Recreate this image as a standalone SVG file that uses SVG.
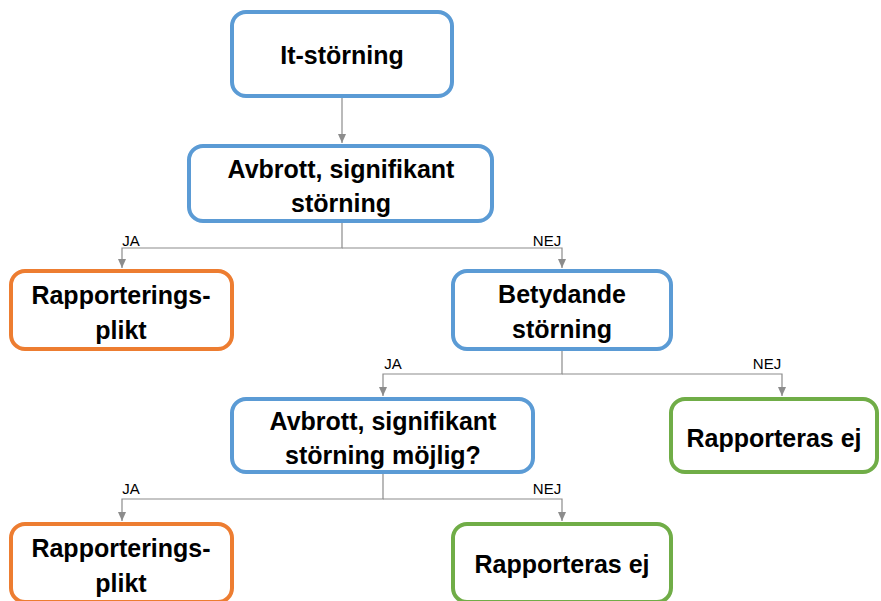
<svg xmlns="http://www.w3.org/2000/svg" width="881" height="601" viewBox="0 0 881 601">
<style>
.box{fill:#fff;stroke-width:4}
.blue{stroke:#5B9BD5}
.orange{stroke:#ED7D31}
.green{stroke:#70AD47}
.t{font-family:"Liberation Sans",Arial,sans-serif;font-weight:bold;font-size:25px;fill:#000;text-anchor:middle}
.l{font-family:"Liberation Sans",Arial,sans-serif;font-size:15px;fill:#000;text-anchor:middle}
.c{fill:none;stroke:#8C8C8C;stroke-width:1.2}
</style>
<defs>
<marker id="ah" markerWidth="10" markerHeight="10" refX="9" refY="5" orient="auto" markerUnits="userSpaceOnUse">
<path d="M0,1 L9,5 L0,9 z" fill="#8C8C8C"/>
</marker>
</defs>
<rect width="881" height="601" fill="#fff"/>
<g id="connectors">
<path class="c" d="M342,97 V143" marker-end="url(#ah)"/>
<path class="c" d="M342,222 V248 H122 V268" marker-end="url(#ah)"/>
<path class="c" d="M342,248 H562 V268" marker-end="url(#ah)"/>
<path class="c" d="M562,350 V374 H383 V396" marker-end="url(#ah)"/>
<path class="c" d="M562,374 H782 V396" marker-end="url(#ah)"/>
<path class="c" d="M383,473 V499 H122 V521" marker-end="url(#ah)"/>
<path class="c" d="M383,499 H562 V521" marker-end="url(#ah)"/>
<text class="l" x="131" y="246">JA</text>
<text class="l" x="547" y="246">NEJ</text>
<text class="l" x="393" y="369">JA</text>
<text class="l" x="767" y="369">NEJ</text>
<text class="l" x="131" y="494">JA</text>
<text class="l" x="547" y="494">NEJ</text>
</g>
<g id="n1">
<rect class="box blue" x="232" y="12" width="220" height="84" rx="14"/>
<text class="t" x="342" y="64">It-störning</text>
</g>
<g id="n2">
<rect class="box blue" x="189" y="146" width="303" height="75" rx="14"/>
<text class="t" x="341" y="178">Avbrott, signifikant</text>
<text class="t" x="341" y="212">störning</text>
</g>
<g id="n3">
<rect class="box orange" x="11" y="271" width="221" height="78" rx="14"/>
<text class="t" x="121" y="304">Rapporterings-</text>
<text class="t" x="121" y="339">plikt</text>
</g>
<g id="n4">
<rect class="box blue" x="453" y="271" width="218" height="78" rx="14"/>
<text class="t" x="562" y="303">Betydande</text>
<text class="t" x="562" y="338">störning</text>
</g>
<g id="n5">
<rect class="box blue" x="232" y="399" width="301" height="73" rx="14"/>
<text class="t" x="383" y="430">Avbrott, signifikant</text>
<text class="t" x="383" y="464">störning möjlig?</text>
</g>
<g id="n6">
<rect class="box green" x="671" y="399" width="206" height="73" rx="14"/>
<text class="t" x="774" y="447">Rapporteras ej</text>
</g>
<g id="n7">
<rect class="box orange" x="11" y="524" width="221" height="78" rx="14"/>
<text class="t" x="121" y="557">Rapporterings-</text>
<text class="t" x="121" y="592">plikt</text>
</g>
<g id="n8">
<rect class="box green" x="453" y="524" width="218" height="78" rx="14"/>
<text class="t" x="562" y="573">Rapporteras ej</text>
</g>
</svg>
